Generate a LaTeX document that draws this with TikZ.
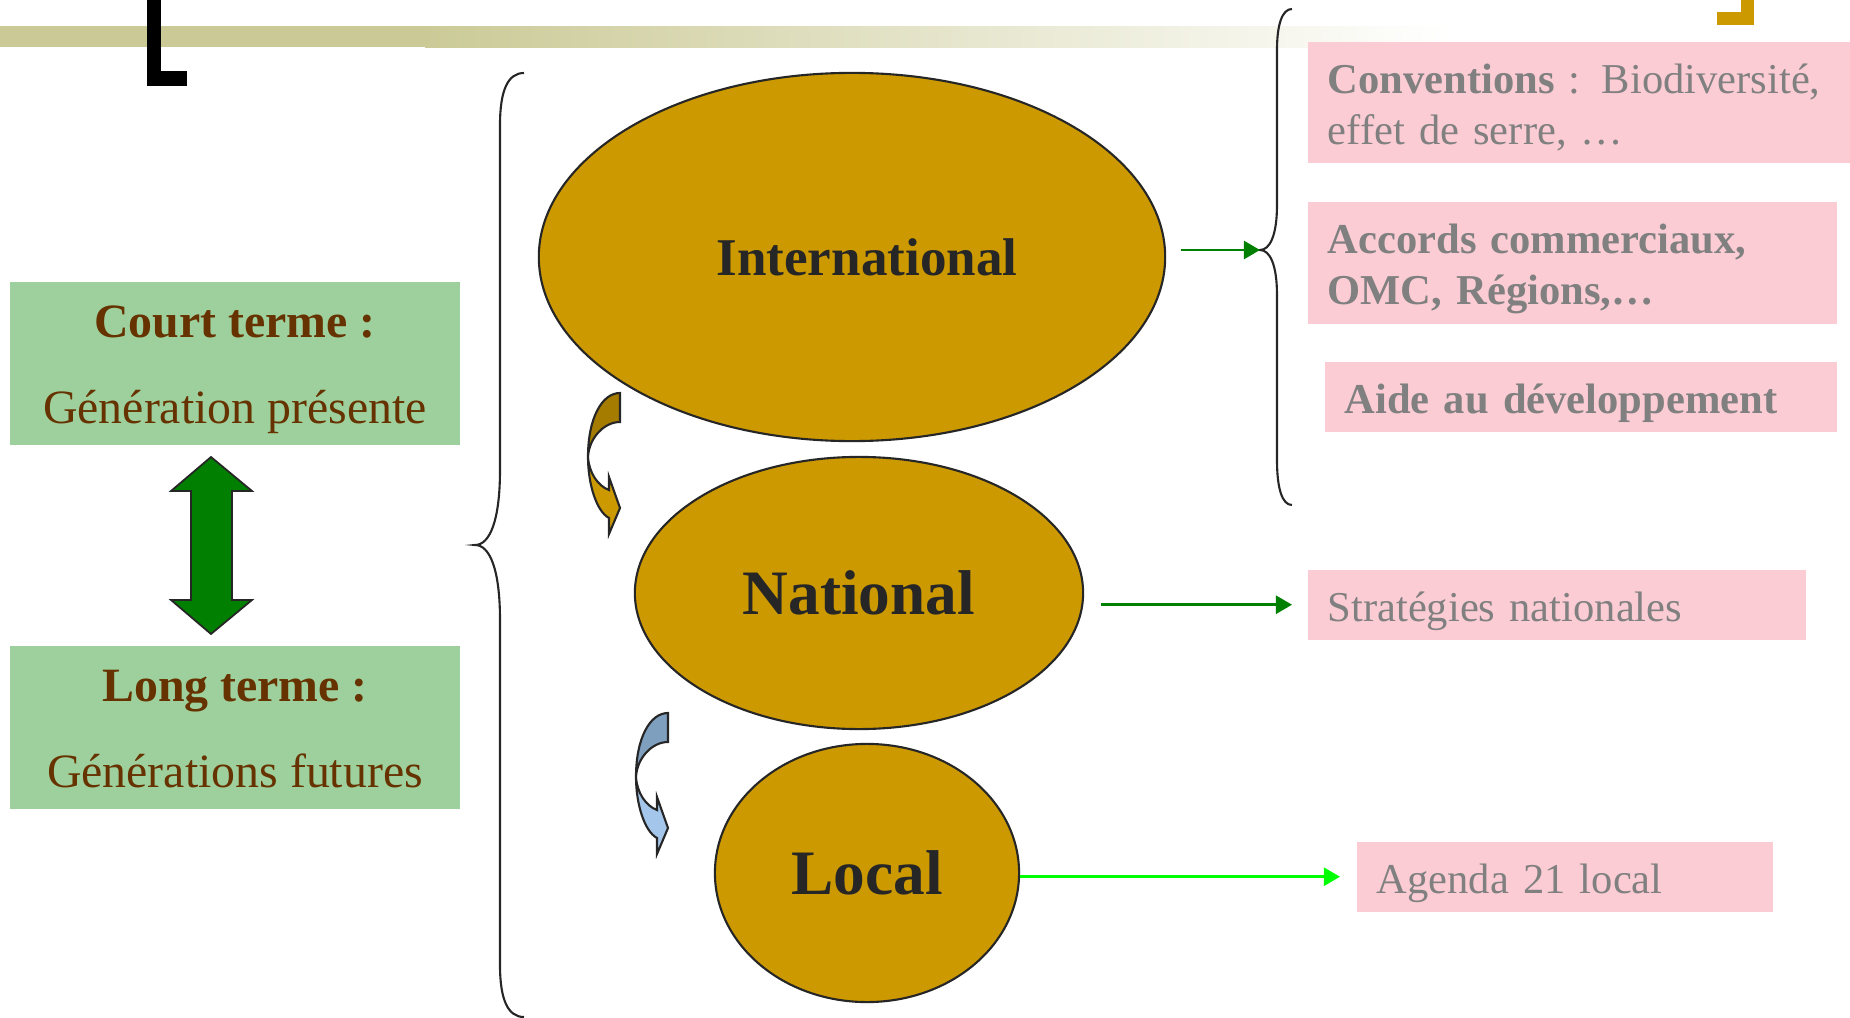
\documentclass[tikz,border=0pt]{standalone}
\usepackage{fontspec}
\setmainfont{Liberation Serif}
\newfontfamily\tightserif{Liberation Serif}[WordSpace=0.7]
\usepackage{tikz}
\usetikzlibrary{shapes.geometric, arrows.meta}
\definecolor{goldfill}{HTML}{CC9900}
\definecolor{golddark}{HTML}{A67C00}
\definecolor{bluedark}{HTML}{7F9FBF}
\definecolor{bluelight}{HTML}{A4C6EA}
\definecolor{pinkfill}{HTML}{FBCCD4}
\definecolor{greenfill}{HTML}{9ED09E}
\definecolor{browntext}{HTML}{663300}
\definecolor{graytext}{HTML}{808080}
\definecolor{barolive}{HTML}{CBCA97}
\definecolor{arrowgreen}{HTML}{008000}
\definecolor{limegreen}{HTML}{00FF00}
\definecolor{bigarrow}{HTML}{007F00}
\definecolor{inkline}{HTML}{262626}
\tikzstyle{level} = [ellipse, draw=inkline, fill=goldfill, line width=0.6pt, inner sep=0pt, text=inkline]
\tikzstyle{horizon} = [rectangle, fill=greenfill, anchor=north, minimum width=4.49cm, inner ysep=0pt, text height=1.42cm, text depth=0.21cm, align=center, text=browntext, font=\fontsize{13.6}{24.5}\selectfont]
\tikzstyle{action} = [rectangle, fill=pinkfill, anchor=north west, inner xsep=0.2cm, inner ysep=0pt, text height=0.52cm, text depth=0.18cm, align=left, text=graytext, font=\tightserif\fontsize{12.1}{14.5}\selectfont]
\tikzstyle{arrow} = [line width=0.7pt, -{Triangle[length=0.16cm,width=0.18cm]}]
\tikzstyle{brace} = [line width=0.6pt, draw=inkline]
\newcommand{\bendarrow}[4]{%
\begin{scope}[shift={(#1,#2)}, draw=inkline, line width=0.6pt]
\filldraw [fill=#3] (0,0) .. controls (-18,0) and (-32,25) .. (-32,64) .. controls (-31,45) and (-16,29) .. (0,29) -- cycle;
\filldraw [fill=#4] (-32,64) .. controls (-32,90) and (-24,118) .. (-11,125) -- (-11,141) -- (0,115) -- (-11,84) -- (-11,97) .. controls (-22,93) and (-31,80) .. (-32,64) -- cycle;
\end{scope}}

\begin{document}
\begin{tikzpicture} [x=0.01cm, y=-0.01cm]
\useasboundingbox (0,0) rectangle (1850,1018);
\fill [barolive] (0,26) rectangle (426,47);
\shade [left color=barolive, right color=white] (425,26) rectangle (1450,47);
\fill [black] (147,0) rectangle (161,86);
\fill [black] (147,71) rectangle (187,86);
\fill [goldfill] (1741,0) rectangle (1754,25);
\fill [goldfill] (1717,12) rectangle (1754,25);

\node (intl) [level, minimum width=6.26cm, minimum height=3.68cm, font=\fontsize{15.1}{18}\selectfont\bfseries] at (852,257) {\hspace{0.3cm}International};
\node (natl) [level, minimum width=4.48cm, minimum height=2.72cm, font=\fontsize{18}{22}\selectfont\bfseries] at (859,593) {National};
\node (local) [level, minimum width=3.04cm, minimum height=2.58cm, font=\fontsize{18}{22}\selectfont\bfseries] at (867,873) {Local};

\node (court) [horizon] at (235,281) {\textbf{Court terme :}\\Génération présente};
\node (long) [horizon] at (235,645) {\textbf{Long terme :}\\Générations futures};

\node (conv) [action, text depth=0.69cm, text width=5.03cm] at (1307,41) {\textbf{Conventions} : Biodiversité,\\effet de serre, …};
\node (accords) [action, text depth=0.70cm, text width=4.89cm] at (1307,201) {\textbf{Accords commerciaux,}\\\textbf{OMC, Régions,…}};
\node (aide) [action, text width=4.72cm] at (1324,361) {\textbf{Aide au développement}};
\node (strat) [action, text width=4.58cm] at (1307,569) {Stratégies nationales};
\node (agenda) [action, text width=3.76cm] at (1356,841) {Agenda 21 local};

\filldraw [fill=bigarrow, draw=inkline, line width=0.5pt] (211,457) -- (252,491) -- (232,491) -- (232,600) -- (252,600) -- (211,634) -- (171,600) -- (191,600) -- (191,491) -- (171,491) -- cycle;

\draw [brace] (524,73) .. controls (508,73) and (500,90) .. (500,125) -- (500,470) .. controls (500,520) and (490,545) .. (475,545) .. controls (490,545) and (500,570) .. (500,620) -- (500,965) .. controls (500,1000) and (508,1017) .. (524,1017);
\draw [brace] (1292,9) .. controls (1282,9) and (1277,25) .. (1277,50) -- (1277,205) .. controls (1277,235) and (1270,250) .. (1260,250) .. controls (1270,250) and (1277,265) .. (1277,295) -- (1277,460) .. controls (1277,488) and (1282,505) .. (1292,505);
\coordinate (rtip) at (1260,250);

\bendarrow{620}{393}{golddark}{goldfill}
\bendarrow{668}{713}{bluedark}{bluelight}

\draw [arrow, arrowgreen, shorten <=0.15cm] (intl.east |- rtip) -- (rtip);
\draw [arrow, arrowgreen, shorten <=0.17cm, shorten >=0.15cm] (natl.east |- strat.west) -- (strat.west);
\draw [arrow, limegreen, shorten >=0.16cm] (local.east |- agenda.west) -- (agenda.west);
\end{tikzpicture}
\end{document}
